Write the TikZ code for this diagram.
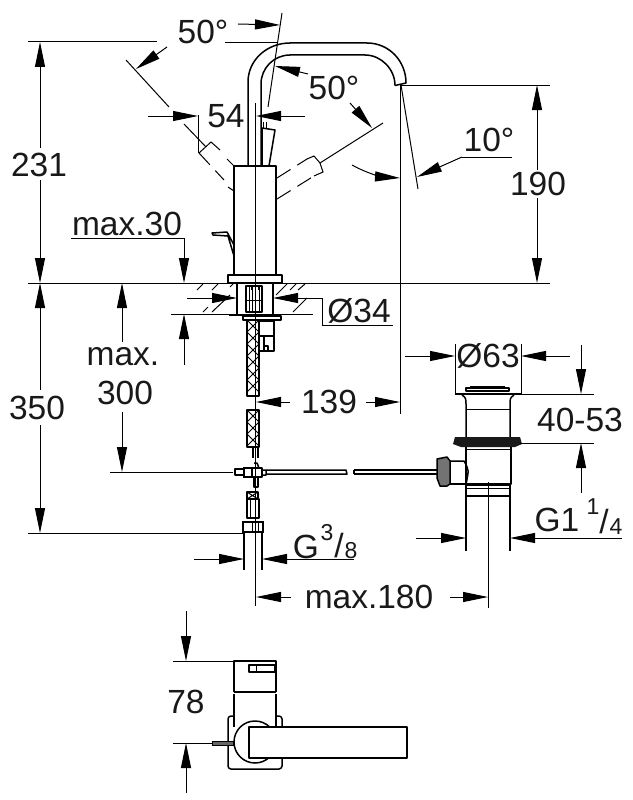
\documentclass[tikz,border=0pt]{standalone}
\usepackage{fontspec}
\setmainfont{Liberation Sans}
\usetikzlibrary{arrows.meta}
\tikzset{
  obj/.style={line width=1.5pt,line join=round},
  thin line/.style={line width=1pt},
  dimarrow/.style={line width=1pt,-{Triangle[length=25pt,width=10pt]}},
  dashline/.style={line width=1pt,dash pattern=on 16pt off 8pt},
  lbl/.style={inner sep=0pt,font=\fontsize{33.5}{36}\selectfont,text=black!90},
  smalllbl/.style={inner sep=0pt,font=\fontsize{23}{24}\selectfont,text=black!90},
}
\begin{document}
\begin{tikzpicture}[x=1pt,y=-1pt]
\useasboundingbox[fill=white] (0,0) rectangle (632,800);
% ---- reference lines
\draw[thin line] (28,283) -- (228,283) (282,283) -- (550,283);
\draw[thin line] (28,42) -- (157,42) (225,43) -- (278,43);
\draw[thin line] (28,533) -- (245,533);
\draw[thin line] (400,85) -- (550,85);
\draw[thin line] (400,85) -- (400,414);
\draw[thin line] (401,85) -- (418,189);
\draw[thin line] (255.5,103) -- (255.5,606);
\draw[thin line] (282,13) -- (268,107);
\draw[thin line] (110,472) -- (233,472);
\draw[thin line] (171,314) -- (313,314);
% ---- spout
\draw[obj] (248,166) -- (248,82) .. controls (248,60) and (267,43) .. (290,43) -- (367,43)
  .. controls (389,43) and (406,61) .. (406,83) -- (395,85.5);
\draw[obj] (261,166) -- (261,84) .. controls (261,68) and (274,55) .. (290,55) -- (365,55)
  .. controls (381,55) and (395,69) .. (395,85.5);
% ---- body, base, levers
\draw[obj] (234,166) rectangle (276,275);
\draw[obj] (228,275) rectangle (282,283);
\draw[obj] (262,166) -- (262,128) -- (275,130) -- (269,166);
\draw[thin line] (263,128) -- (263,122) (266,128) -- (266,122);
\draw[obj] (234,256) -- (228,236) -- (213,235) -- (212,233) -- (227,232) -- (234,245);
% ---- dashed handles
\draw[thin line] (126,60) -- (169,107);
\draw[thin line] (184,124) -- (206,147);
\draw[thin line] (199,153) -- (211,142) -- (220,150);
\draw[dashline] (199,153) -- (224,180);
\draw[thin line] (227,159) -- (234,166) (228,187) -- (234,191);
\draw[thin line] (383,123) -- (320,163) -- (323,172) -- (314,176);
\draw[thin line] (320,163) -- (314,156) -- (307,159);
\draw[dashline] (277,178) -- (307,159);
\draw[dashline] (277,199) -- (314,176);
% ---- counter top
\draw[thin line] (197,290) -- (203,284) (212,290) -- (218,284) (212,312) -- (230,295)
  (203,312) -- (208,307) (230,287) -- (234,283)
  (276,295) -- (287,284) (290,290) -- (296,284) (298,290) -- (305,284)
  (293,312) -- (307,298);
\draw[obj] (237,283) -- (237,314) (273,283) -- (273,314);
\draw[line width=2.2pt] (229,315) -- (281,315);
\draw[obj] (243,316) rectangle (281,320);
\draw[obj] (246,286) rectangle (262,312);
\draw[thin line] (249,286) -- (249,312) (252,286) -- (252,312) (259,286) -- (259,312) (246,300) -- (262,300);
\draw[obj] (252,285) -- (252,290) (259,285) -- (259,290);
% ---- hoses
\draw[obj] (247,320) rectangle (259,396);
\draw[obj] (247,410) rectangle (259,447);
\foreach \yy in {320,332,344,356,368,380}{
  \draw[thin line] (247,\yy) -- (259,\yy+12) (259,\yy) -- (247,\yy+12);}
\foreach \yy in {410,422,434}{
  \draw[thin line] (247,\yy) -- (259,\yy+12) (259,\yy) -- (247,\yy+12);}
\draw[obj] (253,447) -- (253,458) (258,447) -- (258,458);
\draw[obj] (259,321) -- (274,321) -- (274,351) -- (259,351);
\draw[obj] (260,336) -- (274,336) (264,336) -- (264,351) (268,351) -- (268,346) -- (265,346);
% ---- tee
\draw[obj] (235,469) rectangle (244,475);
\draw[line width=2.2pt] (244,468) rectangle (252,477);
\draw[obj] (252,468) -- (262,468) -- (262,477) -- (252,477);
\draw[obj] (254,463) -- (257,463) -- (259,468) (262,470) -- (266,470) -- (266,475) -- (262,475);
\draw[obj] (254,477) rectangle (258,487);
\draw[obj] (266,470) -- (346,470) -- (347,474) -- (266,474);
\draw[obj] (354,470) -- (437,470) (354,474) -- (437,474) (354,470) -- (354,474);
% ---- lower hose and connection
\draw[obj] (247,492) rectangle (258,499);
\draw[thin line] (247,492) -- (258,499) (258,492) -- (247,499);
\draw[obj] (247,499) rectangle (259,518);
\draw[thin line] (250,499) -- (250,518) (255,499) -- (255,518);
\draw[line width=2.2pt] (243,522) rectangle (263,532);
\draw[thin line] (252,522) -- (252,532) (258,522) -- (258,532);
\draw[obj] (244,532) -- (244,570) (262,532) -- (262,570);
% ---- drain
\draw[obj] (466,388) -- (509,388) -- (509,391) -- (466,391) -- cycle;
\draw[obj] (470,387) -- (505,387);
\draw[obj] (455,394) -- (521,394);
\draw[obj] (462,395) .. controls (466,398) .. (466,406) -- (466,437);
\draw[obj] (514,395) .. controls (510,398) .. (510,406) -- (510,437);
\draw[thin line] (466,409) -- (510,409);
\fill[black!90] (455,437) -- (520,437) -- (522,444) -- (515,447) -- (461,447) -- (453,444) -- cycle;
\draw[obj] (466,447) -- (466,484) -- (511,484) -- (511,447);
\draw[thin line] (466,449) -- (511,449);
\draw[obj] (466,485) rectangle (510,496);
\draw[thin line] (466,488) -- (510,488);
\draw[obj] (466,496) -- (466,551) (510,496) -- (510,551);
\draw[obj] (450,461) -- (464,461) .. controls (469,470) .. (466,484);
\draw[obj] (450,484) -- (466,484);
\draw[obj,fill=black!55] (437,459) -- (447,457) -- (450,461) -- (450,484) -- (447,486) -- (440,486) -- (437,478) -- cycle;
\draw[thin line] (488,482) -- (488,608);
% ---- dimension arrows
\draw[dimarrow] (40,148) -- (40,42);
\draw[dimarrow] (40,180) -- (40,283);
\draw[dimarrow] (40,390) -- (40,283);
\draw[dimarrow] (40,425) -- (40,533);
\draw[thin line] (71,238) -- (184,238);
\draw[dimarrow] (184,238) -- (184,283);
\draw[dimarrow] (184,365) -- (184,314);
\draw[dimarrow] (122,342) -- (122,283);
\draw[dimarrow] (122,412) -- (122,472);
\draw[dimarrow] (187,298) -- (237,298);
\draw[thin line] (393,325) -- (322,325) -- (322,298);
\draw[dimarrow] (322,298) -- (273,298);
\draw[dimarrow] (290,402) -- (256,402);
\draw[dimarrow] (366,402) -- (400,402);
\draw[dimarrow] (194,559) -- (244,559);
\draw[dimarrow] (354,559) -- (262,559);
\draw[dimarrow] (291,597) -- (256,597);
\draw[dimarrow] (450,597) -- (488,597);
\draw[dimarrow] (148,116) -- (198,116);
\draw[thin line] (198,115) -- (198,153);
\draw[dimarrow] (305,116) -- (256,116);
\draw[dimarrow] (238,24) -- (280,25);
\draw[dimarrow] (167,47) -- (136,69);
\draw[dimarrow] (308,74) -- (275,66);
\draw[dimarrow] (350,103) -- (372,128);
\draw[dimarrow] (352,165) .. controls (368,174) and (384,177) .. (400,178);
\draw[thin line] (512,157) -- (462,157);
\draw[dimarrow] (462,157) -- (417,177);
\draw[dimarrow] (537,170) -- (537,85);
\draw[dimarrow] (537,198) -- (537,283);
\draw[thin line] (455,344) -- (455,394) (521,344) -- (521,394);
\draw[dimarrow] (405,356) -- (455,356);
\draw[dimarrow] (570,356) -- (521,356);
\draw[dimarrow] (581,345) -- (581,394);
\draw[dimarrow] (581,493) -- (581,443);
\draw[thin line] (521,394) -- (594,394) (520,443) -- (594,443);
\draw[dimarrow] (416,538) -- (466,538);
\draw[dimarrow] (622,538) -- (510,538);
% ---- top view
\draw[dimarrow] (186,611) -- (186,661);
\draw[dimarrow] (186,793) -- (186,743);
\draw[thin line] (173,661) -- (234,661) (173,743) -- (212,743);
\draw[obj] (234,692) -- (234,661) -- (276,661) -- (276,692);
\draw[line width=2.2pt] (234,692) -- (276,692);
\draw[obj] (234,694) -- (234,727) (276,694) -- (276,727);
\draw[obj] (249,665) rectangle (275,672);
\draw[thin line] (256,665) -- (256,672);
\draw[obj,rounded corners=3pt] (276,716) -- (282,716) -- (282,769) -- (228,769) -- (228,716) -- (234,716);
\draw[obj,fill=white] (255,742) circle (21);
\draw[obj,fill=white] (249,727) rectangle (407,758);
\draw[line width=0.8pt,fill=black!60] (212,741) rectangle (233,745);
% ---- labels
\node[lbl] (t231) at (39,165) {231};
\node[lbl] (t350) at (37,408) {350};
\node[lbl] (tmax30) at (127,224) {max.30};
\node[lbl] (tmax) at (123,357) {max.};
\node[lbl] (t300) at (125,393) {300};
\node[lbl] (t50a) at (203,32) {50°};
\node[lbl] (t50b) at (334,88) {50°};
\node[lbl] (t54) at (226,116) {54};
\node[lbl] (t10) at (489,140) {10°};
\node[lbl] (t190) at (538,184) {190};
\node[lbl] (td34) at (359,311) {Ø34};
\node[lbl] (t139) at (329,402) {139};
\node[lbl] (td63) at (488,356) {Ø63};
\node[lbl] (t4053) at (580,420) {40-53};
\node[lbl] (tG) at (306,547) {G};
\node[smalllbl] (t3) at (327,533) {3};
\node[lbl] (tsl) at (339,546) {/};
\node[smalllbl] (t8) at (351,551) {8};
\node[lbl] (tmax180) at (369,597) {max.180};
\node[lbl] (tG1) at (557,520) {G1};
\node[smalllbl] (t1) at (593,507) {1};
\node[lbl] (tsl2) at (604,522) {/};
\node[smalllbl] (t4) at (616,527) {4};
\node[lbl] (t78) at (186,702) {78};
\end{tikzpicture}
\end{document}
